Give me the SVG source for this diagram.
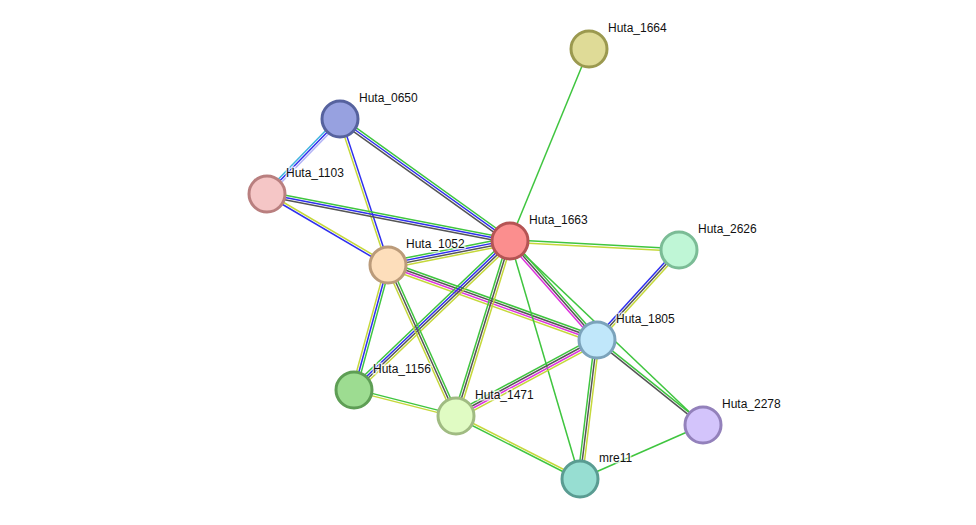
<svg xmlns="http://www.w3.org/2000/svg" width="976" height="525" viewBox="0 0 976 525">
<style>
line{stroke-width:1.5;fill:none}
.g{stroke:#3fc53f}.y{stroke:#c5d83a}.b{stroke:#2f2fee}.k{stroke:#555555}.m{stroke:#dd33dd}.c{stroke:#40b4e0}.p{stroke:#b3b3f5}
circle{stroke-width:3}
text{font-family:"Liberation Sans",Arial,sans-serif;font-size:12px;fill:#111;stroke:#fff;stroke-width:3;stroke-opacity:0.7;paint-order:stroke}
</style>
<rect width="976" height="525" fill="#fff"/>
<g id="edges">
<line class="g" x1="589" y1="49" x2="510" y2="241"/>
<line class="c" x1="338.35" y1="117.4" x2="265.35" y2="192.4"/>
<line class="b" x1="340" y1="119" x2="267" y2="194"/>
<line class="p" x1="341.65" y1="120.6" x2="268.65" y2="195.6"/>
<line class="g" x1="341.34" y1="117.13" x2="511.34" y2="239.13"/>
<line class="b" x1="340" y1="119" x2="510" y2="241"/>
<line class="k" x1="338.66" y1="120.87" x2="508.66" y2="242.87"/>
<line class="y" x1="338.91" y1="119.36" x2="386.91" y2="265.36"/>
<line class="b" x1="341.09" y1="118.64" x2="389.09" y2="264.64"/>
<line class="g" x1="267.44" y1="191.74" x2="510.44" y2="238.74"/>
<line class="b" x1="267" y1="194" x2="510" y2="241"/>
<line class="k" x1="266.56" y1="196.26" x2="509.56" y2="243.26"/>
<line class="y" x1="267.58" y1="193.01" x2="388.58" y2="264.01"/>
<line class="b" x1="266.42" y1="194.99" x2="387.42" y2="265.99"/>
<line class="g" x1="387.33" y1="261.61" x2="509.33" y2="237.61"/>
<line class="b" x1="387.78" y1="263.87" x2="509.78" y2="239.87"/>
<line class="k" x1="388.22" y1="266.13" x2="510.22" y2="242.13"/>
<line class="y" x1="388.67" y1="268.39" x2="510.67" y2="244.39"/>
<line class="g" x1="510.06" y1="239.85" x2="679.06" y2="248.85"/>
<line class="y" x1="509.94" y1="242.15" x2="678.94" y2="251.15"/>
<line class="g" x1="389.17" y1="261.75" x2="598.17" y2="336.75"/>
<line class="k" x1="388.39" y1="263.92" x2="597.39" y2="338.92"/>
<line class="m" x1="387.61" y1="266.08" x2="596.61" y2="341.08"/>
<line class="y" x1="386.83" y1="268.25" x2="595.83" y2="343.25"/>
<line class="g" x1="511.73" y1="239.48" x2="598.73" y2="338.48"/>
<line class="k" x1="510" y1="241" x2="597" y2="340"/>
<line class="m" x1="508.27" y1="242.52" x2="595.27" y2="341.52"/>
<line class="g" x1="510" y1="241" x2="703" y2="425"/>
<line class="g" x1="507.62" y1="238.5" x2="351.62" y2="387.5"/>
<line class="b" x1="509.21" y1="240.17" x2="353.21" y2="389.17"/>
<line class="k" x1="510.79" y1="241.83" x2="354.79" y2="390.83"/>
<line class="y" x1="512.38" y1="243.5" x2="356.38" y2="392.5"/>
<line class="g" x1="507.8" y1="240.32" x2="453.8" y2="415.32"/>
<line class="k" x1="510" y1="241" x2="456" y2="416"/>
<line class="y" x1="512.2" y1="241.68" x2="458.2" y2="416.68"/>
<line class="g" x1="510" y1="241" x2="580" y2="479"/>
<line class="y" x1="385.78" y1="264.4" x2="351.78" y2="389.4"/>
<line class="b" x1="388" y1="265" x2="354" y2="390"/>
<line class="g" x1="390.22" y1="265.6" x2="356.22" y2="390.6"/>
<line class="y" x1="385.9" y1="265.94" x2="453.9" y2="416.94"/>
<line class="k" x1="388" y1="265" x2="456" y2="416"/>
<line class="g" x1="390.1" y1="264.06" x2="458.1" y2="415.06"/>
<line class="g" x1="354.28" y1="388.89" x2="456.28" y2="414.89"/>
<line class="y" x1="353.72" y1="391.11" x2="455.72" y2="417.11"/>
<line class="g" x1="454.36" y1="412.96" x2="595.36" y2="336.96"/>
<line class="k" x1="455.45" y1="414.99" x2="596.45" y2="338.99"/>
<line class="m" x1="456.55" y1="417.01" x2="597.55" y2="341.01"/>
<line class="y" x1="457.64" y1="419.04" x2="598.64" y2="343.04"/>
<line class="g" x1="455.48" y1="417.03" x2="579.48" y2="480.03"/>
<line class="y" x1="456.52" y1="414.98" x2="580.52" y2="477.98"/>
<line class="b" x1="595.3" y1="338.45" x2="677.3" y2="248.45"/>
<line class="k" x1="597" y1="340" x2="679" y2="250"/>
<line class="y" x1="598.7" y1="341.55" x2="680.7" y2="251.55"/>
<line class="g" x1="597.72" y1="339.1" x2="703.72" y2="424.1"/>
<line class="k" x1="596.28" y1="340.9" x2="702.28" y2="425.9"/>
<line class="g" x1="594.72" y1="339.72" x2="577.72" y2="478.72"/>
<line class="k" x1="597" y1="340" x2="580" y2="479"/>
<line class="y" x1="599.28" y1="340.28" x2="582.28" y2="479.28"/>
<line class="g" x1="703" y1="425" x2="580" y2="479"/>
</g>
<g id="Huta_1664"><circle cx="589" cy="49" r="18" fill="#dfdb97" stroke="#9b994f"/><text x="608" y="32">Huta_1664</text></g>
<g id="Huta_0650"><circle cx="340" cy="119" r="18" fill="#97a1e0" stroke="#56629e"/><text x="359" y="102">Huta_0650</text></g>
<g id="Huta_1103"><circle cx="267" cy="194" r="18" fill="#f5c6c6" stroke="#b97f7f"/><text x="286" y="177">Huta_1103</text></g>
<g id="Huta_1663"><circle cx="510" cy="241" r="18" fill="#fb8e8e" stroke="#b55454"/><text x="529" y="224">Huta_1663</text></g>
<g id="Huta_2626"><circle cx="679" cy="250" r="18" fill="#bff6d6" stroke="#7bbc96"/><text x="698" y="233">Huta_2626</text></g>
<g id="Huta_1052"><circle cx="388" cy="265" r="18" fill="#fddebb" stroke="#bb9b7a"/><text x="406" y="248">Huta_1052</text></g>
<g id="Huta_1805"><circle cx="597" cy="340" r="18" fill="#c0e7fa" stroke="#7ba3bb"/><text x="616" y="323">Huta_1805</text></g>
<g id="Huta_1156"><circle cx="354" cy="390" r="18" fill="#9ddc91" stroke="#5e9e55"/><text x="373" y="373">Huta_1156</text></g>
<g id="Huta_1471"><circle cx="456" cy="416" r="18" fill="#e0fbc3" stroke="#a0bb82"/><text x="475" y="399">Huta_1471</text></g>
<g id="Huta_2278"><circle cx="703" cy="425" r="18" fill="#d3c4fb" stroke="#9381bb"/><text x="722" y="408">Huta_2278</text></g>
<g id="mre11"><circle cx="580" cy="479" r="18" fill="#97ded2" stroke="#5a9c92"/><text x="599" y="462">mre11</text></g>
</svg>
